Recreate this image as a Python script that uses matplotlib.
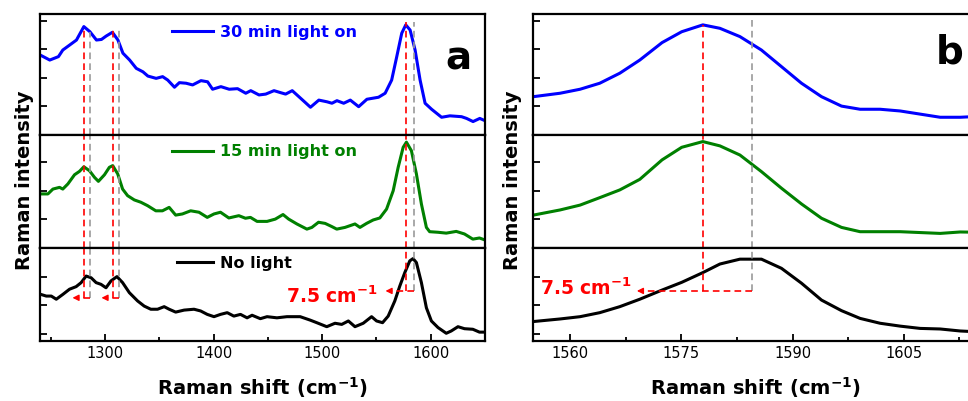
import matplotlib
matplotlib.use("Agg")
import matplotlib.pyplot as plt

plt.rcParams['font.family'] = ['DejaVu Sans']
plt.rcParams['mathtext.default'] = 'bf'

# ---------------- data: panel a ----------------
a30_x = [1240, 1249, 1257, 1261, 1267.5, 1273.6, 1280.4, 1286, 1292, 1296.6, 1301, 1306.7, 1311.8,
         1316.4, 1322.6, 1328.7, 1334.8, 1339.4, 1347, 1353, 1357.7, 1363.9, 1368.4, 1374.6, 1380.6,
         1388.3, 1394.4, 1399, 1406.7, 1414.3, 1422, 1429.6, 1434.2, 1441.8, 1448, 1455.6, 1461.7,
         1466.3, 1472.4, 1478.5, 1484.6, 1489.2, 1496.9, 1504.5, 1509, 1513.6, 1519.8, 1525.9, 1533.6,
         1541.2, 1551.9, 1558, 1564, 1568.7, 1573.3, 1577, 1581, 1585.6, 1590.2, 1594.8, 1600.8, 1610,
         1617.7, 1628.4, 1633, 1639, 1645.2, 1650]
a30_y = [2.80, 2.62, 2.74, 2.97, 3.15, 3.32, 3.79, 3.61, 3.32, 3.34, 3.46, 3.59, 3.32,
         2.86, 2.62, 2.33, 2.21, 2.06, 1.98, 2.04, 1.92, 1.67, 1.83, 1.81, 1.75,
         1.90, 1.86, 1.60, 1.69, 1.60, 1.62, 1.46, 1.55, 1.40, 1.43, 1.55, 1.48,
         1.43, 1.55, 1.34, 1.13, 0.97, 1.22, 1.16, 1.11, 1.20, 1.11, 1.22, 0.99,
         1.25, 1.32, 1.46, 1.92, 2.74, 3.56, 3.85, 3.67, 2.97, 1.92, 1.11, 0.90, 0.62,
         0.67, 0.64, 0.58, 0.47, 0.58, 0.50]

a15_x = [1240.6, 1247.3, 1251.9, 1258, 1261, 1265.7, 1271.8, 1276.4, 1280.4, 1285.6, 1290.2, 1293.8,
         1299.4, 1303.9, 1307, 1311.6, 1316.1, 1320.7, 1326.9, 1332.9, 1339.1, 1346.7, 1352.8, 1359,
         1365, 1371.2, 1378.8, 1386.5, 1394.1, 1400.3, 1406.3, 1414, 1423.2, 1429.3, 1433.9, 1440,
         1449.2, 1456.8, 1463.9, 1469.1, 1476.7, 1485.9, 1490.5, 1496.6, 1502.7, 1508.8, 1513.4,
         1521, 1530.2, 1534.8, 1540.9, 1547, 1553.1, 1559.3, 1565.4, 1570, 1574.6, 1577.6, 1582.2,
         1586.8, 1591.4, 1596, 1599, 1606.7, 1614.3, 1623.5, 1631.1, 1638.8, 1644.9, 1650]
a15_y = [1.89, 1.89, 2.06, 2.12, 2.06, 2.24, 2.56, 2.68, 2.84, 2.70, 2.47, 2.33,
         2.56, 2.82, 2.88, 2.59, 2.06, 1.83, 1.68, 1.60, 1.48, 1.30, 1.30, 1.42,
         1.15, 1.19, 1.30, 1.25, 1.07, 1.19, 1.25, 1.05, 1.13, 1.04, 1.07, 0.93,
         0.93, 1.01, 1.17, 1.01, 0.84, 0.66, 0.72, 0.90, 0.86, 0.75, 0.66,
         0.72, 0.84, 0.72, 0.86, 0.98, 1.05, 1.36, 2.00, 2.82, 3.52, 3.70, 3.40,
         2.59, 1.54, 0.72, 0.57, 0.55, 0.52, 0.58, 0.49, 0.31, 0.35, 0.28]

a0_x = [1240.6, 1245.8, 1250.4, 1255, 1261.1, 1267.2, 1273.3, 1277.9, 1282.5, 1287.1, 1291.7, 1296.2,
        1300.8, 1305.4, 1310.9, 1316.1, 1322.3, 1329.9, 1336, 1342.1, 1348.3, 1354.4, 1359, 1365,
        1372.8, 1381.9, 1388, 1394.1, 1400.3, 1406.3, 1412.5, 1418.6, 1424.7, 1430.8, 1435.4, 1443,
        1449.2, 1458.3, 1467.5, 1479.7, 1488.9, 1495, 1504.2, 1511.8, 1518, 1524.1, 1530.2, 1537.8,
        1545.5, 1550.1, 1555.6, 1560.8, 1566.9, 1571.5, 1576.1, 1580.7, 1583.7, 1586.8, 1591.4,
        1596, 1600.6, 1606.7, 1614.3, 1618.9, 1625.1, 1631.1, 1638.8, 1644.9, 1650]
a0_y = [1.63, 1.57, 1.57, 1.46, 1.63, 1.81, 1.90, 2.04, 2.27, 2.21, 2.04, 1.98,
        1.86, 2.10, 2.25, 2.04, 1.69, 1.40, 1.22, 1.11, 1.11, 1.20, 1.11, 1.01,
        1.08, 1.11, 1.05, 0.93, 0.85, 0.93, 0.99, 0.87, 0.93, 0.81, 0.90, 0.78,
        0.85, 0.81, 0.85, 0.85, 0.73, 0.64, 0.50, 0.62, 0.58, 0.70, 0.50, 0.62,
        0.85, 0.70, 0.64, 0.87, 1.40, 1.92, 2.39, 2.80, 2.88, 2.74, 2.04,
        1.16, 0.70, 0.47, 0.27, 0.35, 0.50, 0.43, 0.41, 0.31, 0.31]

# ---------------- data: panel b ----------------
b_x = [1555.05, 1558.65, 1561.35, 1564.0, 1566.7, 1569.4, 1572.4, 1575.05, 1577.9, 1580.2, 1582.9,
       1585.8, 1588.5, 1591.2, 1593.9, 1596.6, 1599.1, 1601.8, 1604.5, 1607.2, 1609.9, 1612.6, 1615]
b30_y = [1.34, 1.46, 1.60, 1.81, 2.16, 2.62, 3.23, 3.61, 3.85, 3.73, 3.44,
         2.97, 2.39, 1.81, 1.34, 1.01, 0.90, 0.90, 0.84, 0.73, 0.62, 0.62, 0.65]
b15_y = [1.15, 1.33, 1.50, 1.76, 2.03, 2.40, 3.08, 3.52, 3.72, 3.57, 3.25,
         2.67, 2.09, 1.54, 1.04, 0.72, 0.57, 0.57, 0.57, 0.54, 0.51, 0.56, 0.55]
b0_y = [0.68, 0.77, 0.85, 0.99, 1.20, 1.46, 1.78, 2.05, 2.39, 2.69, 2.86,
        2.86, 2.54, 2.02, 1.43, 1.06, 0.79, 0.62, 0.52, 0.44, 0.42, 0.35, 0.32]

labels = ["30 min light on", "15 min light on", "No light"]
colors = ["#0000FF", "#008000", "#000000"]

# peak markers (red = shifted, grey = reference)
a_red = [1280.5, 1307.0, 1577.0]
a_grey = [1286.0, 1312.5, 1584.5]
b_red = [1577.9]
b_grey = [1584.5]
shift_text = "7.5 cm$^{-1}$"

# ---------------- figure ----------------
W, H = 968, 401
fig = plt.figure(figsize=(W / 100, H / 100), dpi=100)

def fx(px):
    return px / W

def fy(py):
    return 1 - py / H

rows = [(14, 135, (0, 4.23), [1, 2, 3, 4]),
        (135, 248, (0, 3.95), [1, 2, 3]),
        (248, 341, (0, 3.25), [0.25, 1.25, 2.25])]

def make_panel(left_px, width_px, xlim, major, minor):
    axes = []
    for (t, b, yl, yt) in rows:
        ax = fig.add_axes([fx(left_px), fy(b), width_px / W, (b - t) / H])
        ax.set_xlim(*xlim)
        ax.set_ylim(*yl)
        ax.set_yticks(yt)
        ax.set_yticklabels([])
        ax.set_xticks(major)
        ax.set_xticks(minor, minor=True)
        ax.tick_params(which='both', direction='in', width=1.3, top=False, right=False)
        ax.tick_params(which='major', length=5)
        ax.tick_params(which='minor', length=3)
        ax.tick_params(axis='y', which='minor', left=False)
        for s in ax.spines.values():
            s.set_linewidth(1.6)
        axes.append(ax)
    for ax in axes[:-1]:
        ax.tick_params(axis='x', which='both', bottom=False, labelbottom=False)
    axes[-1].tick_params(axis='x', labelsize=10.5, pad=3.5)
    return axes

axA = make_panel(40, 445, (1240, 1650), [1300, 1400, 1500, 1600],
                 [1250, 1350, 1450, 1550, 1650])
axB = make_panel(533, 445, (1555, 1615), [1560, 1575, 1590, 1605],
                 [1567.5, 1582.5, 1597.5, 1612.5])

a_series = [(a30_x, a30_y), (a15_x, a15_y), (a0_x, a0_y)]
b_series = [b30_y, b15_y, b0_y]

leg_pos = [(0.2966, 0.849, 2.56), (0.2966, 0.852, 2.56), (0.3079, 0.835, 2.25)]
for i in range(3):
    ln, = axA[i].plot(a_series[i][0], a_series[i][1], color=colors[i], lw=2.2,
                      label=labels[i], solid_joinstyle='round')
    axB[i].plot(b_x, b_series[i], color=colors[i], lw=2.2, solid_joinstyle='round')
    x0, y0, hl = leg_pos[i]
    axA[i].legend(handles=[ln], loc='center left', bbox_to_anchor=(x0, y0),
                  frameon=False, borderaxespad=0, borderpad=0, handlelength=hl,
                  handletextpad=0.45, labelcolor='linecolor',
                  prop={'weight': 'bold', 'size': 11.5})

dash = (0, (4, 2.5))

def vline(axes, x, ytop, ybot, color):
    axes[0].axvline(x, ymin=0, ymax=ytop / axes[0].get_ylim()[1], color=color, lw=1.2, ls=dash)
    axes[1].axvline(x, ymin=0, ymax=1, color=color, lw=1.2, ls=dash)
    axes[2].axvline(x, ymin=ybot / axes[2].get_ylim()[1], ymax=1, color=color, lw=1.2, ls=dash)

def shift_arrow(ax, xg, xr, tip, y, head):
    ax.plot([xg, tip + head * 0.8], [y, y], color='red', lw=1.2, ls=dash)
    ax.annotate('', xy=(tip, y), xytext=(tip + head, y),
                arrowprops=dict(arrowstyle='-|>', color='red', lw=1.0,
                                mutation_scale=9, shrinkA=0, shrinkB=0))

# panel a markers
a_tops_red = [3.78, 3.67, 3.95]
a_tops_grey = [3.60, 3.74, 3.95]
a_bots = [1.51, 1.51, 1.75]
a_tips = [1269.9, 1296.6, 1558.3]
for r, g, tr, tg, yb, tip in zip(a_red, a_grey, a_tops_red, a_tops_grey, a_bots, a_tips):
    vline(axA, g, tg, yb, '#999999')
    vline(axA, r, tr, yb, 'red')
    shift_arrow(axA[2], g, r, tip, yb, 5.5)
axA[2].text(1551, 1.33, shift_text, color='red', fontsize=13.5, fontweight='bold',
            ha='right', va='baseline')

# panel b markers
vline(axB, b_grey[0], 4.09, 1.75, '#999999')
vline(axB, b_red[0], 3.85, 1.75, 'red')
shift_arrow(axB[2], b_grey[0], b_red[0], 1569.0, 1.75, 0.8)
axB[2].text(1568.3, 1.61, shift_text, color='red', fontsize=13.5, fontweight='bold',
            ha='right', va='baseline')

# panel letters
fig.text(fx(458), fy(58), 'a', fontsize=28, fontweight='bold', ha='center', va='center')
fig.text(fx(950), fy(53), 'b', fontsize=28, fontweight='bold', ha='center', va='center')

# axis labels
for ax in (axA[2], axB[2]):
    ax.set_xlabel('Raman shift (cm$^{-1}$)', fontsize=14, fontweight='bold', labelpad=10.5)
fig.text(fx(25), fy(180.5), 'Raman intensity', rotation=90, fontsize=14,
         fontweight='bold', ha='center', va='center')
fig.text(fx(512.5), fy(180.5), 'Raman intensity', rotation=90, fontsize=14,
         fontweight='bold', ha='center', va='center')

fig.savefig('out.png', dpi=100)
